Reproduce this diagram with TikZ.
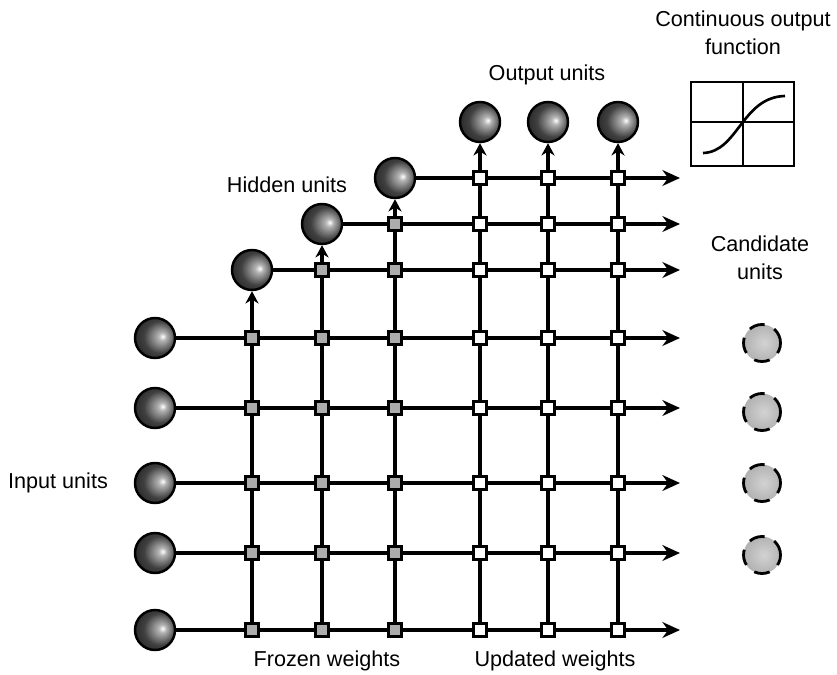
\documentclass[tikz,border=0pt]{standalone}
\usepackage{fontspec}
\setmainfont{Liberation Sans}
\usepackage{tikz}
\usetikzlibrary{arrows.meta}

% shaded balls for the units
\pgfdeclareradialshading{unitball}{\pgfpoint{10bp}{2bp}}{color(0bp)=(white); color(5bp)=(gray!60); color(20bp)=(black!75); color(50bp)=(black)}
\pgfdeclareradialshading{candball}{\pgfpoint{3bp}{0bp}}{color(0bp)=(gray!35); color(25bp)=(gray!60); color(50bp)=(gray!90)}

\tikzset{
unit/.style={circle,draw,line width=1.4pt,minimum size=0.8cm,inner sep=0pt,shading=unitball},
cand/.style={circle,draw,line width=1.6pt,dash pattern=on 9pt off 6pt,minimum size=0.74cm,inner sep=0pt,shading=candball},
wire/.style={line width=1.8pt},
frozen/.style={draw,line width=1.5pt,fill=gray!65,minimum size=7.5pt,inner sep=0pt},
updated/.style={draw,line width=1.5pt,fill=white,minimum size=7.5pt,inner sep=0pt},
lbl/.style={font=\fontsize{12.3}{16.2}\selectfont,inner sep=0pt,align=center}
}

\begin{document}
\begin{tikzpicture}[x=0.02cm,y=-0.02cm,>={Stealth[length=10pt,width=9pt]}]
\useasboundingbox (0,0) rectangle (837,675);
% units
\foreach \y [count=\i] in {338,408,483,553,630}
  \node[unit] (in\i) at (155,\y) {};
\node[unit] (h1) at (252,270) {};
\node[unit] (h2) at (322,224) {};
\node[unit] (h3) at (395,178) {};
\foreach \x [count=\i] in {480,548,618}
  \node[unit] (o\i) at (\x,122) {};
\foreach \y [count=\i] in {343,412,483,555}
  \node[cand] (c\i) at (762,\y) {};
\coordinate (rend) at (680,0);
% horizontal lines
\foreach \n in {in1,in2,in3,in4,in5,h1,h2,h3}
  \draw[wire,->] (\n) -- (\n -| rend);
% vertical lines
\foreach \n in {h1,h2,h3,o1,o2,o3}
  \draw[wire,-{Stealth[length=7pt,width=7.5pt]}] (\n |- in5) -- (\n);
% weights
\foreach \i in {1,...,5}{
  \node[frozen] (w-h1-\i) at (h1 |- in\i) {};
  \node[frozen] (w-h2-\i) at (h2 |- in\i) {};
  \node[frozen] (w-h3-\i) at (h3 |- in\i) {};
}
\node[frozen] (w-h2-h1) at (h2 |- h1) {};
\node[frozen] (w-h3-h1) at (h3 |- h1) {};
\node[frozen] (w-h3-h2) at (h3 |- h2) {};
\foreach \c in {o1,o2,o3}
  \foreach \n in {in1,in2,in3,in4,in5,h1,h2,h3}
    \node[updated] (w-\c-\n) at (\c |- \n) {};
% output function
\draw[line width=1.5pt] (691,82) rectangle (794,166);
\draw[line width=1.5pt] (743,82)--(743,166) (691,122)--(794,122);
\draw[line width=1.5pt] (703,153) .. controls (738,152) and (742,97) .. (785,96);
% labels
\node[lbl] (tin) at (58,483) {Input units};
\node[lbl] (thid) at (287,185) {Hidden units};
\node[lbl] (tout) at (547,75) {Output units};
\node[lbl] (tcand) at (760,258) {Candidate\\units};
\node[lbl] (tfun) at (743,33) {Continuous output\\function};
\node[lbl] (tfro) at (327,661) {Frozen weights};
\node[lbl] (tupd) at (555,661) {Updated weights};
\end{tikzpicture}
\end{document}
